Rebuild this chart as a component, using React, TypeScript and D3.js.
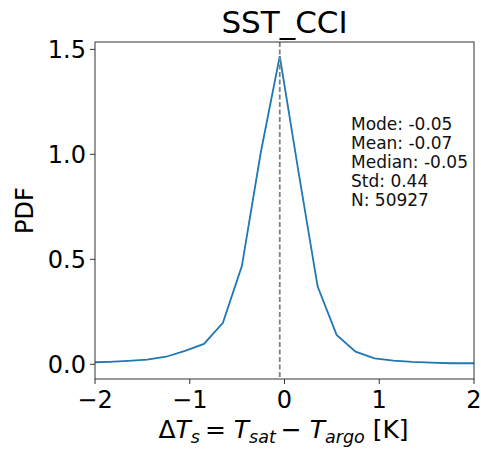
import React from "react";
import * as d3 from "d3";

// bin centres of the error histogram (K) and their densities
const binCenters = [-2.05, -1.85, -1.65, -1.45, -1.25, -1.05, -0.85, -0.65, -0.45, -0.25, -0.05, 0.15, 0.35, 0.55, 0.75, 0.95, 1.15, 1.35, 1.55, 1.75, 1.95, 2.15];
const pdfValues = [0.009, 0.012, 0.016, 0.022, 0.036, 0.064, 0.097, 0.198, 0.468, 1.01, 1.468, 0.91, 0.37, 0.14, 0.06, 0.028, 0.018, 0.012, 0.008, 0.005, 0.005, 0.005];
const xTicks = [-2, -1, 0, 1, 2];
const yTicks = [0, 0.5, 1.0, 1.5];
const modeValue = -0.05;
const statLines = ["Mode: -0.05", "Mean: -0.07", "Median: -0.05", "Std: 0.44", "N: 50927"];

const W = 481;
const H = 449;
const margin = { top: 42, right: 7, bottom: 70, left: 95 };
const font = "DejaVu Sans, sans-serif";

export default function App() {
  const iw = W - margin.left - margin.right;
  const ih = H - margin.top - margin.bottom;

  const x = d3.scaleLinear().domain([-2, 2]).range([0, iw]);
  // matplotlib-like autoscale: lower limit a bit below zero
  const y = d3.scaleLinear().domain([-0.07, 1.535]).range([ih, 0]);

  const line = d3
    .line<number>()
    .x((_, i) => x(binCenters[i]))
    .y((d) => y(d));

  const minus = (v: number) => (v < 0 ? "\u2212" + Math.abs(v) : String(v));

  return (
    <svg width={W} height={H} style={{ position: "absolute", left: 0, top: 0 }}>
      <rect width={W} height={H} fill="#fff" />
      <defs>
        <clipPath id="plot">
          <rect width={iw} height={ih} />
        </clipPath>
      </defs>
      <text x={margin.left + iw / 2} y={33} textAnchor="middle" fontFamily={font} fontSize={31}>
        SST_CCI
      </text>
      <g transform={`translate(${margin.left},${margin.top})`}>
        <g clipPath="url(#plot)">
          <path d={line(pdfValues)!} fill="none" stroke="#1f77b4" strokeWidth={1.8} />
          <line x1={x(modeValue)} x2={x(modeValue)} y1={0} y2={ih} stroke="#808080" strokeWidth={1.8} strokeDasharray="5,2.5" />
        </g>
        <rect width={iw} height={ih} fill="none" stroke="#333" strokeWidth={1} />
        {xTicks.map((t) => (
          <g key={t} transform={`translate(${x(t)},${ih})`}>
            <line y2={5} stroke="#333" />
            <text y={29} textAnchor="middle" fontFamily={font} fontSize={24}>
              {minus(t)}
            </text>
          </g>
        ))}
        {yTicks.map((t) => (
          <g key={t} transform={`translate(0,${y(t)})`}>
            <line x2={-5} stroke="#333" />
            <text x={-9} dy="0.36em" textAnchor="end" fontFamily={font} fontSize={24}>
              {t.toFixed(1)}
            </text>
          </g>
        ))}
        <text x={256} y={88} fontFamily={font} fontSize={17} fill="#111">
          {statLines.map((s, i) => (
            <tspan key={s} x={256} dy={i === 0 ? 0 : 19.1}>
              {s}
            </tspan>
          ))}
        </text>
      </g>
      <text
        transform={`translate(33,${margin.top + ih / 2}) rotate(-90)`}
        textAnchor="middle"
        fontFamily={font}
        fontSize={24}
      >
        PDF
      </text>
      <text x={margin.left + iw / 2 - 1} y={438} textAnchor="middle" fontFamily={font} fontSize={25}>
        <tspan>Δ</tspan>
        <tspan fontStyle="italic">T</tspan>
        <tspan fontStyle="italic" fontSize={17.5} dy={5}>s</tspan>
        <tspan dy={-5}>{"\u2009= "}</tspan>
        <tspan fontStyle="italic">T</tspan>
        <tspan fontStyle="italic" fontSize={17.5} dy={5}>sat</tspan>
        <tspan dy={-5}>{"\u2009\u2212 "}</tspan>
        <tspan fontStyle="italic">T</tspan>
        <tspan fontStyle="italic" fontSize={17.5} dy={5}>argo</tspan>
        <tspan dy={-5}> [K]</tspan>
      </text>
    </svg>
  );
}
